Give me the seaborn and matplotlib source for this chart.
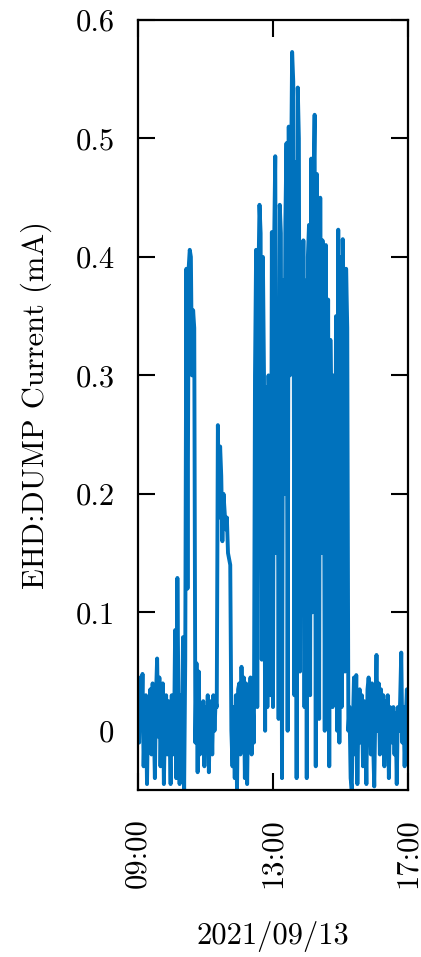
import pandas as pd
import numpy as np
import seaborn as sns
import matplotlib.pyplot as plt
import matplotlib.dates as mdates

# EHD:DUMP current, one reading every 2 minutes, 09:00 - 17:00
v09 = [0.02, -0.01, 0.045, 0.005, 0.048, -0.03, 0.012, 0.03, -0.045, 0.02,
       0.0, 0.035, -0.02, 0.04, 0.01, -0.04, 0.03, 0.061, -0.005, 0.045,
       -0.03, 0.02, 0.04, -0.045, 0.01, 0.03, -0.02, 0.025, 0.0, -0.045]
v10 = [0.03, -0.02, -0.01, 0.085, -0.04, 0.129, 0.02, -0.045, 0.03, -0.03,
       0.079, -0.05, 0.06, 0.39, 0.12, 0.39, 0.406, 0.40, 0.30, 0.355,
       0.34, -0.01, 0.057, -0.035, 0.05, -0.02, 0.02, 0.0, 0.025, -0.03]
v11 = [0.02, -0.01, 0.03, -0.035, 0.015, 0.025, -0.02, 0.03, 0.0, 0.025,
       0.02, 0.258, 0.18, 0.24, 0.215, 0.16, 0.2, 0.185, 0.17, 0.18,
       0.15, 0.145, 0.14, 0.0, -0.03, 0.02, -0.04, 0.03, -0.05, 0.035]
v12 = [0.04, -0.02, 0.054, 0.0, 0.045, -0.04, 0.04, -0.045, 0.03, 0.01,
       0.045, -0.02, 0.025, -0.01, 0.3, 0.406, 0.02, 0.38, 0.444, 0.42,
       0.06, 0.4, 0.3, 0.0, 0.29, 0.02, 0.3, 0.25, 0.03, 0.421]
v13 = [0.02, 0.41, 0.485, 0.15, 0.35, 0.01, 0.444, 0.42, -0.04, 0.38,
       0.2, 0.43, 0.496, 0.0, 0.51, 0.3, 0.46, 0.573, 0.548, 0.03,
       0.48, -0.04, 0.543, 0.5, 0.05, 0.35, 0.18, 0.414, 0.02, 0.38]
v14 = [-0.04, 0.4, 0.427, 0.03, 0.483, 0.1, 0.45, 0.52, -0.03, 0.47,
       0.3, 0.01, 0.45, 0.15, 0.414, 0.389, 0.0, 0.41, 0.04, 0.364,
       -0.03, 0.33, 0.25, 0.02, 0.3, 0.06, 0.35, 0.0, 0.423, -0.01]
v15 = [0.4, 0.02, 0.415, 0.34, 0.05, 0.39, 0.34, 0.0, 0.02, -0.04,
       -0.05, 0.005, 0.045, -0.02, 0.047, -0.045, 0.02, 0.035, -0.01, 0.03,
       -0.03, 0.025, 0.01, -0.045, 0.035, 0.045, 0.03, -0.02, 0.04, -0.01]
v16 = [-0.047, 0.02, 0.064, 0.0, 0.04, -0.02, 0.035, 0.01, 0.03, -0.03,
       0.025, 0.0, 0.03, -0.04, 0.02, 0.01, -0.01, 0.02, -0.02, 0.015,
       -0.045, 0.02, 0.0, 0.025, 0.066, -0.01, 0.02, -0.03, 0.01, 0.035]
v17 = [0.0]

yticks = [0, 0.1, 0.2, 0.3, 0.4, 0.5, 0.6]
ytick_labels = ['0', '0.1', '0.2', '0.3', '0.4', '0.5', '0.6']
xtick_times = ['2021-09-13 09:00', '2021-09-13 13:00', '2021-09-13 17:00']

times = pd.date_range('2021-09-13 09:00', '2021-09-13 17:00', freq='2min')
current = v09 + v10 + v11 + v12 + v13 + v14 + v15 + v16 + v17
df = pd.DataFrame({'time': times, 'current': current})

sns.set_style('ticks', {'axes.edgecolor': 'black', 'xtick.color': 'black',
                        'ytick.color': 'black', 'text.color': 'black',
                        'axes.labelcolor': 'black'})
plt.rcParams['font.family'] = ['cmr10', 'DejaVu Serif']
plt.rcParams['axes.formatter.use_mathtext'] = True

fig, ax = plt.subplots(figsize=(4.21, 9.57), dpi=100)
fig.subplots_adjust(left=138/421, right=408/421, top=1-20/957, bottom=1-790/957)

sns.lineplot(data=df, x='time', y='current', ax=ax, color='#0072BD',
             linewidth=2.8, estimator=None)

ax.set_ylim(-0.05, 0.6)
ax.set_xlim(pd.Timestamp(xtick_times[0]), pd.Timestamp(xtick_times[-1]))
ax.set_yticks(yticks)
ax.set_yticklabels(ytick_labels)
ax.set_xticks([pd.Timestamp(t) for t in xtick_times])
ax.xaxis.set_major_formatter(mdates.DateFormatter('%H:%M'))

ax.tick_params(axis='both', which='major', direction='in', length=12, width=1.5,
               top=True, right=True, labelsize=22, colors='black')
ax.tick_params(axis='y', pad=17)
ax.tick_params(axis='x', pad=20, labelrotation=90)
for s in ax.spines.values():
    s.set_linewidth(1.6)
    s.set_color('black')
    s.set_visible(True)

ax.set_ylabel('EHD:DUMP Current (mA)', fontsize=22, labelpad=17, color='black')
ax.set_xlabel('2021/09/13', fontsize=22, labelpad=24, color='black')

fig.savefig('out.png', dpi=100)
